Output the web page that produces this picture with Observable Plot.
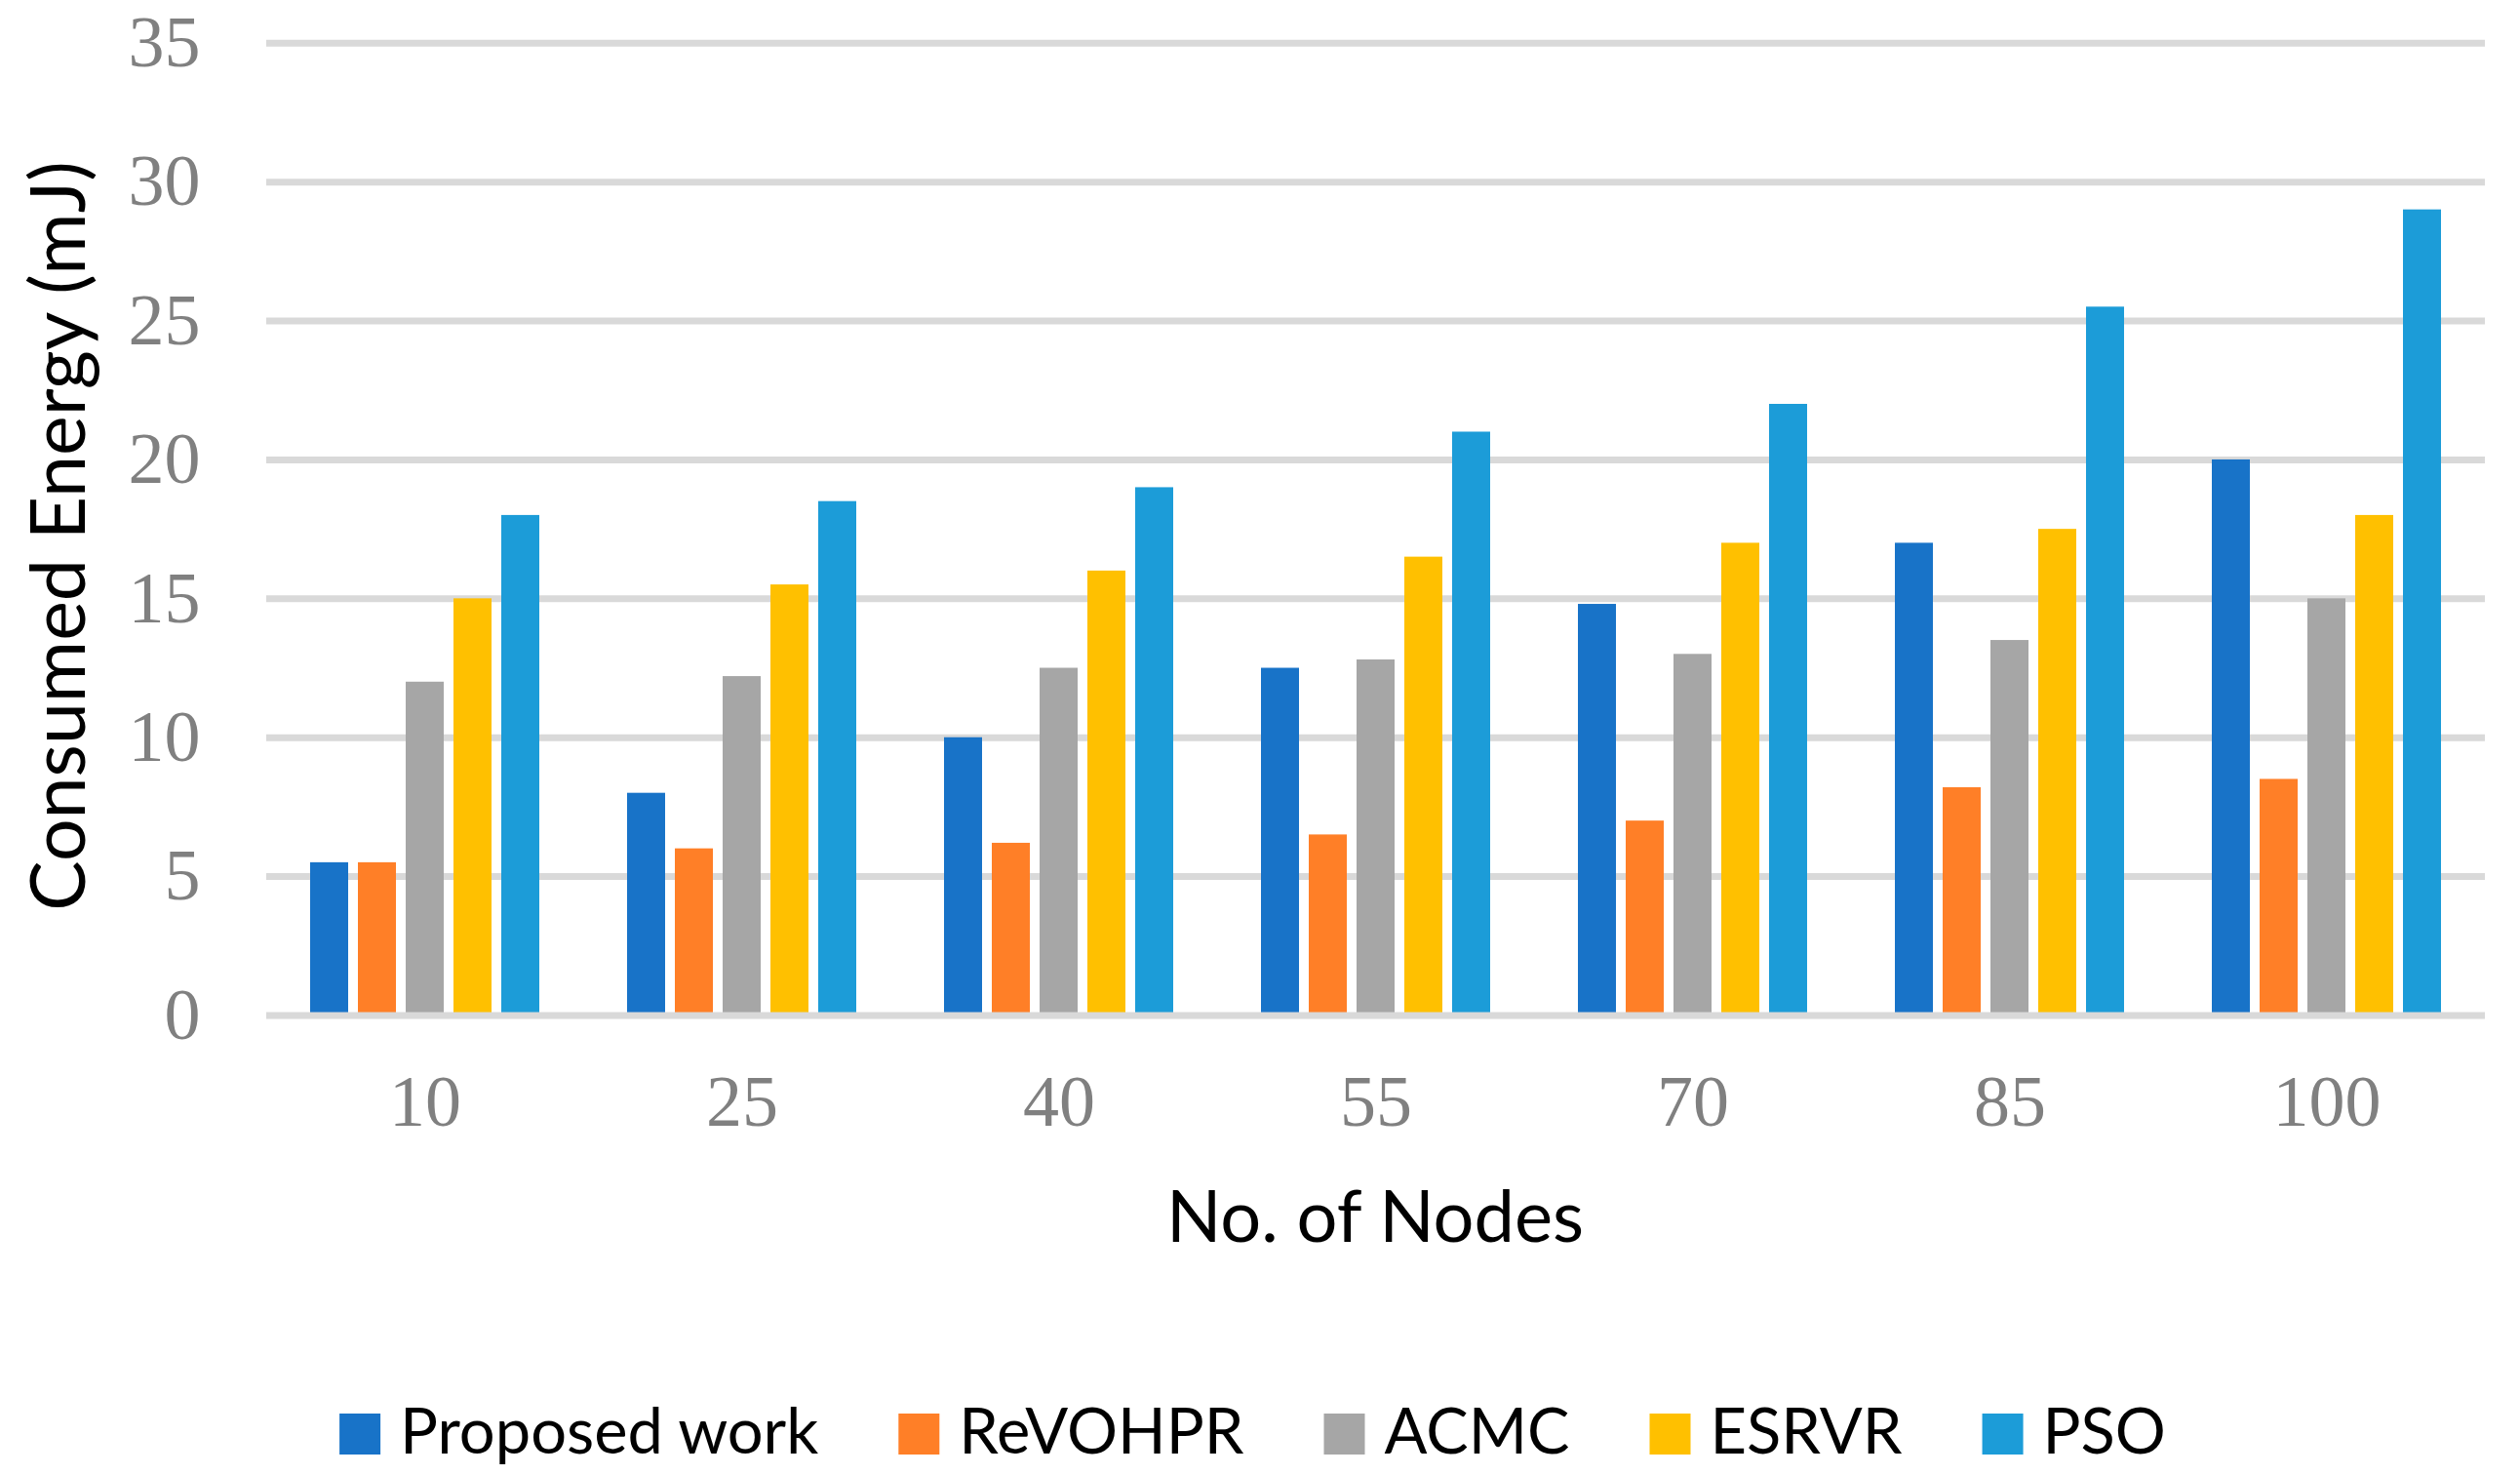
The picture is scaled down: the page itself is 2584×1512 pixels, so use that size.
<!DOCTYPE html>
<html><head><meta charset="utf-8">
<script src="https://cdn.jsdelivr.net/npm/d3@7"></script>
<script src="https://cdn.jsdelivr.net/npm/@observablehq/plot@0.6"></script>
<style>
html,body{margin:0;padding:0;background:#fff;}
#wrap{position:relative;width:2584px;height:1512px;overflow:hidden;background:#fff;}
#overlay{position:absolute;left:0;top:0;}
</style></head><body><div id="wrap"></div>
<script>
const nodes = ["10","25","40","55","70","85","100"];
const series = ["Proposed work","ReVOHPR","ACMC","ESRVR","PSO"];
const colors = ["#1873c8","#ff7f27","#a6a6a6","#ffc000","#1c9cd8"];
const proposedWork = [5.5, 8, 10, 12.5, 14.8, 17, 20];
const revohpr      = [5.5, 6, 6.2, 6.5, 7, 8.2, 8.5];
const acmc         = [12, 12.2, 12.5, 12.8, 13, 13.5, 15];
const esrvr        = [15, 15.5, 16, 16.5, 17, 17.5, 18];
const pso          = [18, 18.5, 19, 21, 22, 25.5, 29];
const yTicks = [0, 5, 10, 15, 20, 25, 30, 35];
const xTitle = "No. of Nodes";
const yTitle = "Consumed Energy (mJ)";

const valuesBySeries = [proposedWork, revohpr, acmc, esrvr, pso];
const data = [];
nodes.forEach((n, i) => series.forEach((s, j) => data.push({node: n, series: s, value: valuesBySeries[j][i]})));

const W = 2584, H = 1512;
const yTop = 43.8, yZero = 1040.5;
const chart = Plot.plot({
  width: W, height: H,
  marginLeft: 271, marginRight: 35, marginTop: yTop, marginBottom: H - yZero,
  style: {background: "#fff", overflow: "visible"},
  fx: {domain: nodes, padding: 0, label: null},
  x: {domain: series, paddingInner: 0.2, paddingOuter: 0.854, axis: null},
  y: {domain: [0, 35]},
  color: {domain: series, range: colors},
  marks: [
    Plot.ruleY(yTicks.filter(d => d > 0), {stroke: "#d9d9d9", strokeWidth: 7}),
    Plot.barY(data, {fx: "node", x: "series", y: "value", fill: "series"}),
    Plot.ruleY([0], {stroke: "#d9d9d9", strokeWidth: 7}),
    Plot.axisY(yTicks, {tickSize: 0, tickPadding: 68, fontSize: 74, fontFamily: "Liberation Serif", fill: "#808080", label: null}),
    Plot.axisFx({anchor: "bottom", tickSize: 0, tickPadding: 60, fontSize: 74, fontFamily: "Liberation Serif", fill: "#808080", label: null})
  ]
});
const wrap = document.getElementById("wrap");
wrap.appendChild(chart);

const ns = "http://www.w3.org/2000/svg";
const ov = document.createElementNS(ns, "svg");
ov.setAttribute("width", W); ov.setAttribute("height", H); ov.id = "overlay";
wrap.appendChild(ov);
function txt(str, attrs) {
  const t = document.createElementNS(ns, "text");
  for (const k in attrs) t.setAttribute(k, attrs[k]);
  t.textContent = str;
  ov.appendChild(t);
  return t;
}
txt(xTitle, {x: 1410, y: 1273, "text-anchor": "middle", "font-family": "Lato", "font-size": 74, fill: "#000"});
txt(yTitle, {transform: "translate(87,549.5) rotate(-90)", "text-anchor": "middle", "font-family": "Lato", "font-size": 77, fill: "#000"});

// legend
const sw = 42, gapSwText = 20, gapItems = 82, legFont = 65, legBase = 1490, swTop = 1449;
const items = series.map((s, i) => {
  const r = document.createElementNS(ns, "rect");
  r.setAttribute("width", sw); r.setAttribute("height", sw); r.setAttribute("y", swTop);
  r.setAttribute("fill", colors[i]);
  ov.appendChild(r);
  const t = txt(s, {y: legBase, "font-family": "Lato", "font-size": legFont, fill: "#000"});
  return {r, t, w: t.getComputedTextLength()};
});
const total = items.reduce((a, it) => a + sw + gapSwText + it.w, 0) + gapItems * (items.length - 1);
let cx = 1284.5 - total / 2;
items.forEach(it => {
  it.r.setAttribute("x", cx);
  it.t.setAttribute("x", cx + sw + gapSwText);
  cx += sw + gapSwText + it.w + gapItems;
});
</script>
</body></html>
